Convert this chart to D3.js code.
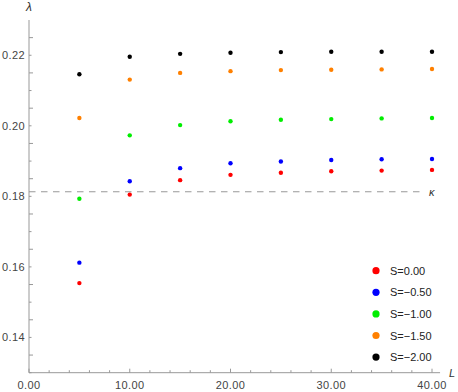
<!DOCTYPE html>
<html>
<head>
<meta charset="utf-8">
<script src="https://cdn.jsdelivr.net/npm/d3@7"></script>
<style>
  body { margin: 0; background: #fff; }
  text { font-family: "Liberation Sans", Arial, sans-serif; }
</style>
</head>
<body>
<div id="chart"></div>
<script>
var width = 458,
    height = 392;

// data
var lengths = [5, 10, 15, 20, 25, 30, 35, 40];
var seriesNames = ["S=0.00", "S=\u22120.50", "S=\u22121.00", "S=\u22121.50", "S=\u22122.00"];
var seriesColors = ["#ff0000", "#0000ff", "#00ee00", "#ff8000", "#000000"];
var s000 = [0.1554, 0.1805, 0.1846, 0.1861, 0.1867, 0.1871, 0.1873, 0.1875];
var s050 = [0.1612, 0.1843, 0.1880, 0.1894, 0.1899, 0.1903, 0.1905, 0.1906];
var s100 = [0.1793, 0.1973, 0.2002, 0.2013, 0.2017, 0.2019, 0.2021, 0.2022];
var s150 = [0.2022, 0.2131, 0.2150, 0.2155, 0.2158, 0.2159, 0.2160, 0.2161];
var s200 = [0.2146, 0.2196, 0.2204, 0.2207, 0.2209, 0.2210, 0.2210, 0.2210];
var kappa = 0.1813;
var xTicks = [0, 10, 20, 30, 40];
var yTicks = [0.14, 0.16, 0.18, 0.20, 0.22];

var allSeries = [s000, s050, s100, s150, s200];

var svg = d3.select("#chart")
    .append("svg")
    .attr("width", width)
    .attr("height", height);

var x = d3.scaleLinear()
    .domain([0, 40])
    .range([29, 432]);

var y = d3.scaleLinear()
    .domain([0.13, 0.23])
    .range([372.7, 20]);

var axisColor = "#999";
var labelColor = "#444";

// axis lines
svg.append("line")
    .attr("x1", x(0)).attr("x2", x(40.8))
    .attr("y1", y(0.13)).attr("y2", y(0.13))
    .style("stroke", axisColor);
svg.append("line")
    .attr("x1", x(0)).attr("x2", x(0))
    .attr("y1", y(0.13)).attr("y2", y(0.23))
    .style("stroke", axisColor);

// minor + major ticks on x
var xMinor = d3.range(0, 41, 2);
svg.selectAll(".xtick")
    .data(xMinor)
    .enter().append("line")
    .attr("class", "xtick")
    .attr("x1", d => x(d)).attr("x2", d => x(d))
    .attr("y1", y(0.13))
    .attr("y2", d => y(0.13) - (d % 10 === 0 ? 4 : 2.5))
    .style("stroke", axisColor);

svg.selectAll(".xlabel")
    .data(xTicks)
    .enter().append("text")
    .attr("class", "xlabel")
    .attr("x", d => x(d))
    .attr("y", 389)
    .attr("text-anchor", "middle")
    .style("font-size", "11px")
    .style("letter-spacing", "0.4px")
    .style("fill", labelColor)
    .text(d => d3.format(".2f")(d));

// minor + major ticks on y
var yMinor = d3.range(0, 20).map(i => 0.13 + i * 0.005);
svg.selectAll(".ytick")
    .data(yMinor)
    .enter().append("line")
    .attr("class", "ytick")
    .attr("x1", x(0))
    .attr("x2", (d, i) => x(0) + (i % 2 === 0 ? 2.5 : 4))
    .attr("y1", d => y(d)).attr("y2", d => y(d))
    .style("stroke", axisColor);

svg.selectAll(".ylabel")
    .data(yTicks)
    .enter().append("text")
    .attr("class", "ylabel")
    .attr("x", 25)
    .attr("y", d => y(d) + 4)
    .attr("text-anchor", "end")
    .style("font-size", "11px")
    .style("letter-spacing", "0.4px")
    .style("fill", labelColor)
    .text(d => d3.format(".2f")(d));

// axis titles
svg.append("text")
    .attr("x", x(0))
    .attr("y", 11)
    .attr("text-anchor", "middle")
    .style("font-size", "12px")
    .style("font-style", "italic")
    .style("fill", "#333")
    .text("\u03bb");

svg.append("text")
    .attr("x", 449)
    .attr("y", 377)
    .style("font-size", "11px")
    .style("font-style", "italic")
    .style("fill", "#333")
    .text("L");

// kappa line
svg.append("line")
    .attr("x1", x(0))
    .attr("x2", x(39))
    .attr("y1", y(kappa))
    .attr("y2", y(kappa))
    .style("stroke", "#999")
    .style("stroke-width", 1.2)
    .style("stroke-dasharray", "6.5,5.5");

svg.append("text")
    .attr("x", x(39.7))
    .attr("y", y(kappa) + 4)
    .style("font-size", "11px")
    .style("font-style", "italic")
    .style("fill", "#333")
    .text("\u03ba");

// points
allSeries.forEach(function (vals, k) {
    svg.selectAll(".pt" + k)
        .data(vals)
        .enter().append("circle")
        .attr("class", "pt" + k)
        .attr("cx", (d, i) => x(lengths[i]))
        .attr("cy", d => y(d))
        .attr("r", 2.2)
        .style("fill", seriesColors[k]);
});

// legend
var legend = svg.selectAll(".legend")
    .data(seriesNames)
    .enter().append("g")
    .attr("class", "legend")
    .attr("transform", (d, i) => "translate(376," + (270.7 + i * 21.6) + ")");

legend.append("circle")
    .attr("r", 3.6)
    .style("fill", (d, i) => seriesColors[i]);

legend.append("text")
    .attr("x", 14)
    .attr("y", 4)
    .style("font-size", "11px")
    .style("fill", "#222")
    .text(d => d);
</script>
</body>
</html>
